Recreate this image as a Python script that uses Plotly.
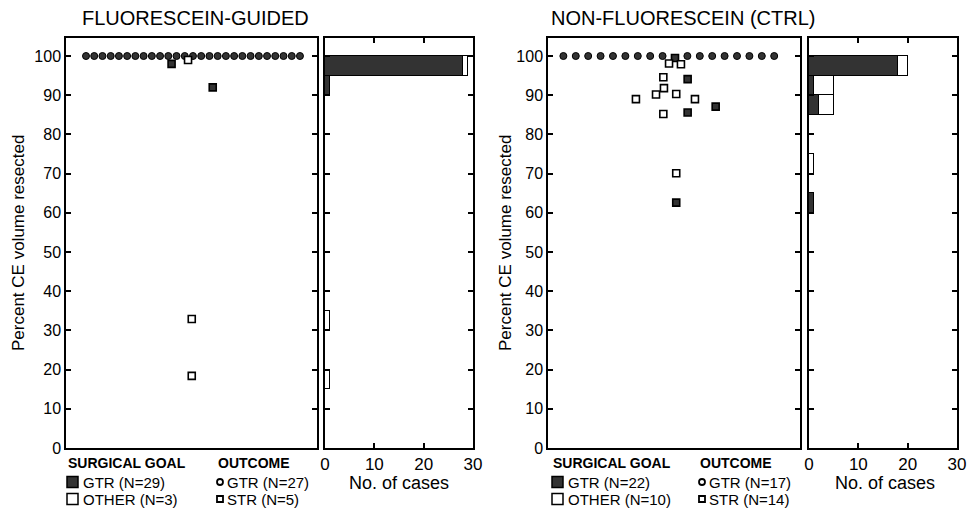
import numpy as np
import plotly.graph_objects as go

# ---------------- DATA ----------------
# Percent CE volume resected, by outcome (circle = GTR, square = STR)
# and surgical goal ("GTR" filled, "OTHER" open)
fl_gtr_pct = [100, 100, 100, 100, 100, 100, 100, 100, 100, 100, 100, 100, 100, 100,
              100, 100, 100, 100, 100, 100, 100, 100, 100, 100, 100, 100, 100]
fl_gtr_goal = ["GTR"] * len(fl_gtr_pct)
fl_str_pct = [98.0, 99.0, 92.0, 32.9, 18.4]
fl_str_goal = ["GTR", "OTHER", "GTR", "OTHER", "OTHER"]

ct_gtr_pct = [100, 100, 100, 100, 100, 100, 100, 100, 100,
              100, 100, 100, 100, 100, 100, 100, 100]
ct_gtr_goal = ["GTR"] * len(ct_gtr_pct)
ct_str_pct = [99.5, 98.1, 97.9, 94.6, 94.1, 91.8, 90.3, 90.2, 89.0, 89.0, 87.1, 85.2, 85.6, 70.1, 62.6]
ct_str_goal = ["GTR", "OTHER", "OTHER", "OTHER", "GTR", "OTHER", "OTHER", "OTHER", "OTHER",
               "OTHER", "GTR", "OTHER", "GTR", "OTHER", "GTR"]

y_ticks = [0, 10, 20, 30, 40, 50, 60, 70, 80, 90, 100]
hist_ticks = [0, 10, 20, 30]
titles = ["FLUORESCEIN-GUIDED", "NON-FLUORESCEIN (CTRL)"]
fl_goal_labels = ["GTR (N=29)", "OTHER (N=3)"]
fl_outcome_labels = ["GTR (N=27)", "STR (N=5)"]
ct_goal_labels = ["GTR (N=22)", "OTHER (N=10)"]
ct_outcome_labels = ["GTR (N=17)", "STR (N=14)"]

# ---------------- LAYOUT HELPERS (swarm placement) ----------------
# horizontal swarm slots for the squares (layout jitter, not data)
fl_str_slot = [-2.6, -0.6, 2.4, -0.15, -0.15]
ct_str_slot = [0.0, -0.48, 0.48, -0.94, 1.02, -0.89, 0.1, -1.53, -3.15, 1.61, 3.28, -0.94, 1.02, 0.1, 0.1]

def row_slots(n, gap_after=None):
    """positions of circles in a single row, optional gap slot"""
    if gap_after is None:
        start = -(n - 1) / 2
        return [start + i for i in range(n)]
    xs = []
    pos = -gap_after
    while len(xs) < n:
        if pos != 0:
            xs.append(pos)
        pos += 1
    return xs

fl_gtr_slot = row_slots(len(fl_gtr_pct))
ct_gtr_slot = row_slots(len(ct_gtr_pct), gap_after=9)

W, H = 971, 510
def px(x):
    return x / W
def py(y):
    return 1 - y / H

DARK = "#333333"
FONT = "Liberation Sans, Arial, sans-serif"

fig = go.Figure()

def fillcol(goals):
    return [DARK if g == "GTR" else "white" for g in goals]

bins = np.arange(0, 105, 5)
centers = (bins[:-1] + bins[1:]) / 2

def add_group(gtr_pct, gtr_goal, gtr_slot, str_pct, str_goal, str_slot, xa, ya, hxa, hya, msize):
    fig.add_trace(go.Scatter(x=gtr_slot, y=gtr_pct, mode="markers", xaxis=xa, yaxis=ya,
                             marker=dict(symbol="circle", size=msize, color=fillcol(gtr_goal),
                                         line=dict(color="black", width=1)),
                             showlegend=False, hoverinfo="y"))
    fig.add_trace(go.Scatter(x=str_slot, y=str_pct, mode="markers", xaxis=xa, yaxis=ya,
                             marker=dict(symbol="square", size=7, color=fillcol(str_goal),
                                         line=dict(color="black", width=1.6)),
                             showlegend=False, hoverinfo="y"))
    allp = np.array(list(gtr_pct) + list(str_pct), dtype=float)
    allg = list(gtr_goal) + list(str_goal)
    for goal, col in [("GTR", DARK), ("OTHER", "white")]:
        vals = allp[[g == goal for g in allg]]
        cnt, _ = np.histogram(vals, bins=bins)
        m = cnt > 0
        fig.add_trace(go.Bar(x=cnt[m], y=centers[m], orientation="h", width=5,
                             xaxis=hxa, yaxis=hya,
                             marker=dict(color=col, line=dict(color="black", width=1)),
                             showlegend=False))

add_group(fl_gtr_pct, fl_gtr_goal, fl_gtr_slot, fl_str_pct, fl_str_goal, fl_str_slot,
          "x", "y", "x2", "y2", 7)
add_group(ct_gtr_pct, ct_gtr_goal, ct_gtr_slot, ct_str_pct, ct_str_goal, ct_str_slot,
          "x3", "y3", "x4", "y4", 7)

ydom = [py(448), py(38)]
yrange = [0, 104.6]
box = dict(showline=True, linecolor="black", linewidth=1.5, mirror=True,
           showgrid=False, zeroline=False, automargin=False)

def scat_x(dom, rng, anchor):
    return dict(domain=dom, range=rng, anchor=anchor, ticks="", showticklabels=False, **box)

def scat_y(anchor):
    return dict(domain=ydom, range=yrange, anchor=anchor, tickvals=y_ticks,
                ticks="inside", ticklen=5, tickwidth=1.5, tickcolor="black",
                tickfont=dict(size=16, color="black", family=FONT), **{**box, "mirror": "allticks"})

def hist_x(dom, anchor):
    return dict(domain=dom, range=[0, 30], anchor=anchor, tickvals=hist_ticks,
                ticks="inside", ticklen=5, tickwidth=1.5, tickcolor="black",
                tickfont=dict(size=17, color="black", family=FONT), **{**box, "mirror": "allticks"})

def hist_y(anchor):
    return dict(domain=ydom, range=yrange, anchor=anchor, tickvals=y_ticks,
                ticks="inside", ticklen=5, tickwidth=1.5, tickcolor="black",
                showticklabels=False, **{**box, "mirror": "allticks"})

fig.update_layout(
    width=W, height=H, margin=dict(l=0, r=0, t=0, b=0, autoexpand=False),
    paper_bgcolor="white", plot_bgcolor="white",
    barmode="stack", bargap=0,
    font=dict(family=FONT, color="black"),
    xaxis=scat_x([px(66), px(317)], [-15.43, 15.07], "y"),
    yaxis=scat_y("x"),
    xaxis2=hist_x([px(325), px(473)], "y2"),
    yaxis2=hist_y("x2"),
    xaxis3=scat_x([px(548), px(800)], [-10.24, 10.08], "y3"),
    yaxis3=scat_y("x3"),
    xaxis4=hist_x([px(809), px(957)], "y4"),
    yaxis4=hist_y("x4"),
)

ann = []
shapes = []

def text(t, x, y, size, xanchor="center", angle=0):
    ann.append(dict(text=t, x=px(x), y=py(y), xref="paper", yref="paper", xanchor=xanchor,
                    yanchor="middle", showarrow=False, textangle=angle,
                    font=dict(size=size, family=FONT, color="black")))

# titles
text(titles[0], 195, 18, 20)
text(titles[1], 683, 18, 20)
# y axis titles
for xx in (18, 505):
    text("Percent CE volume resected", xx, 243, 17, angle=-90)
# x axis titles of histograms
for xx in (399, 885):
    text("No. of cases", xx, 483, 18)

def legend(x0, xo, goal_labels, outcome_labels):
    text("<b>SURGICAL GOAL</b>", x0, 463, 14, xanchor="left")
    text("<b>OUTCOME</b>", xo, 463, 14, xanchor="left")
    for i, (lab, col) in enumerate(zip(goal_labels, [DARK, "white"])):
        yc = 482 + 17 * i
        shapes.append(dict(type="rect", xref="paper", yref="paper", x0=px(x0 + 1), x1=px(x0 + 12),
                           y0=py(yc - 5.5), y1=py(yc + 5.5), fillcolor=col,
                           line=dict(color="black", width=1.5)))
        text(lab, x0 + 15, yc, 15, xanchor="left")
    for i, (lab, kind) in enumerate(zip(outcome_labels, ["circle", "rect"])):
        yc = 482 + 17 * i
        shapes.append(dict(type=kind, xref="paper", yref="paper", x0=px(xo + 1), x1=px(xo + 7),
                           y0=py(yc - 3), y1=py(yc + 3), fillcolor="white",
                           line=dict(color="black", width=1.8)))
        text(lab, xo + 9, yc, 15, xanchor="left")

legend(66, 216, fl_goal_labels, fl_outcome_labels)
legend(551, 698, ct_goal_labels, ct_outcome_labels)

fig.update_layout(annotations=ann, shapes=shapes)
fig.write_html("out.html", config={"displayModeBar": False},
               post_script="document.body.style.margin='0px';document.body.style.overflow='hidden';")
